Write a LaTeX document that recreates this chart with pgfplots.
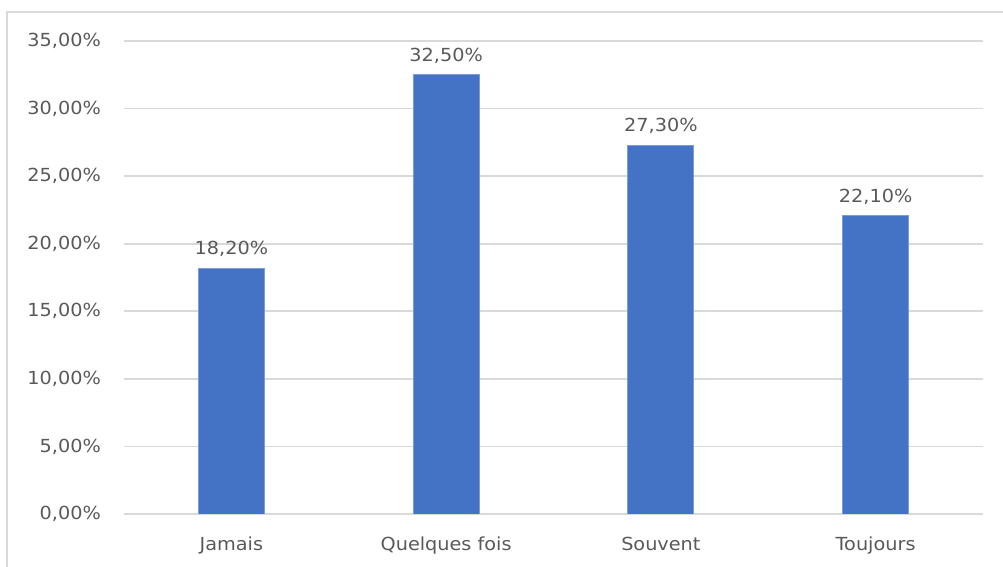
\documentclass[border=0pt]{standalone}
\usepackage{fontspec}
\setmainfont{DejaVu Sans}[FakeStretch=1.07]
\usepackage{pgfplots}
\pgfplotsset{compat=1.18}
\definecolor{barblue}{HTML}{4472C4}
\definecolor{gridgray}{HTML}{D9D9D9}
\definecolor{txtgray}{HTML}{595959}
\begin{document}
\begin{tikzpicture}
% 1 px of the reference = 0.5pt
\path[use as bounding box] (-62pt,-26.5pt) rectangle (439.5pt,257pt);
\draw[gridgray, line width=1pt] (-58.5pt,-40pt) -- (-58.5pt,251pt) -- (460pt,251pt);
\begin{axis}[
    at={(0pt,0pt)}, anchor=south west,
    scale only axis,
    width=429.5pt, height=236.5pt,
    ybar, bar width=33pt,
    xmin=-0.5, xmax=3.5,
    ymin=0, ymax=35,
    xtick=data,
    xticklabels={Jamais, Quelques fois, Souvent, Toujours},
    ytick={0,5,...,35},
    axis line style={draw=none},
    major tick length=0pt,
    ymajorgrids,
    grid style={gridgray, line width=0.8pt},
    font=\fontsize{9}{10}\selectfont,
    tick label style={txtgray},
    /pgf/number format/assume math mode=true,
    yticklabel={\pgfmathprintnumber[fixed,fixed zerofill,precision=2,use comma]{\tick}\%},
    yticklabel style={xshift=-8pt},
    xticklabel style={yshift=-8pt},
    nodes near coords={\pgfmathprintnumber[fixed,fixed zerofill,precision=2,use comma,assume math mode=true]{\pgfplotspointmeta}\%},
    nodes near coords style={txtgray, font=\fontsize{9}{10}\selectfont, yshift=2pt},
]
\addplot[fill=barblue, draw=barblue!70!white, line width=0.4pt] coordinates {
    (0,18.2) (1,32.5) (2,27.3) (3,22.1)
};
\end{axis}
\end{tikzpicture}
\end{document}
